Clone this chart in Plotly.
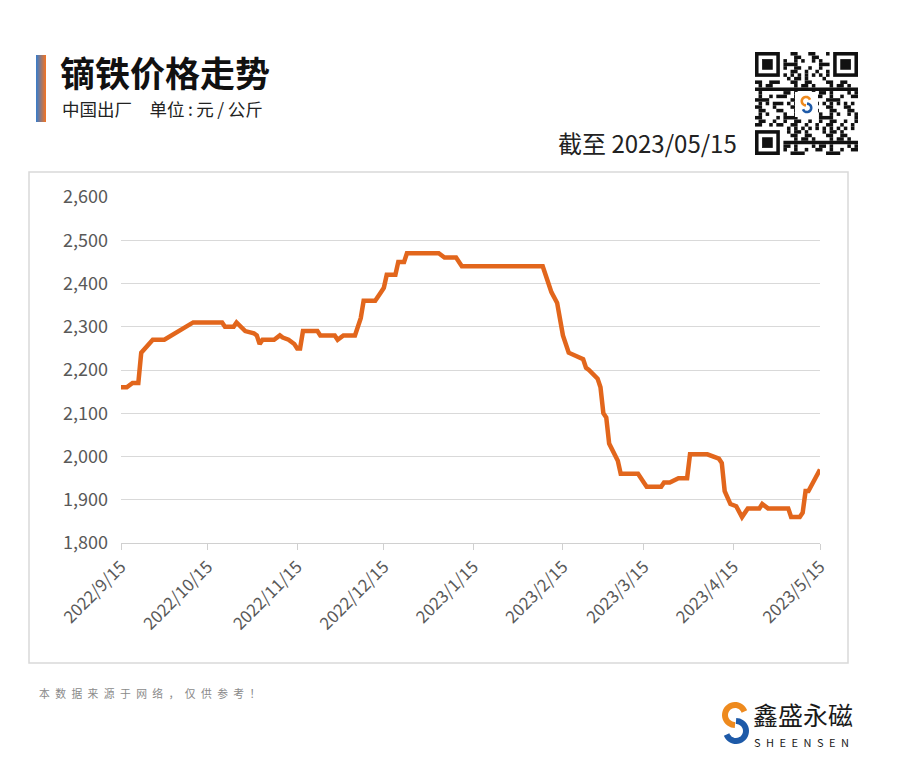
import math
import plotly.graph_objects as go

# ---------------- data ----------------
dates = [
    "2022-09-15", "2022-09-17", "2022-09-19", "2022-09-21", "2022-09-22", "2022-09-24", "2022-09-26", "2022-09-30",
    "2022-10-10", "2022-10-20", "2022-10-21", "2022-10-24", "2022-10-25", "2022-10-28", "2022-10-31",
    "2022-11-01", "2022-11-02", "2022-11-03", "2022-11-07", "2022-11-09", "2022-11-10", "2022-11-12", "2022-11-14",
    "2022-11-15", "2022-11-16", "2022-11-17", "2022-11-22", "2022-11-23", "2022-11-28", "2022-11-29",
    "2022-12-01", "2022-12-05", "2022-12-07", "2022-12-08", "2022-12-12", "2022-12-14", "2022-12-15", "2022-12-16",
    "2022-12-19", "2022-12-20", "2022-12-22", "2022-12-23",
    "2023-01-03", "2023-01-05", "2023-01-09", "2023-01-11",
    "2023-02-08", "2023-02-10", "2023-02-11", "2023-02-13", "2023-02-15", "2023-02-17", "2023-02-21", "2023-02-22",
    "2023-02-23", "2023-02-24", "2023-02-27", "2023-02-28",
    "2023-03-01", "2023-03-02", "2023-03-03", "2023-03-05", "2023-03-06", "2023-03-07", "2023-03-13", "2023-03-15",
    "2023-03-16", "2023-03-21", "2023-03-22", "2023-03-24", "2023-03-27", "2023-03-30", "2023-03-31",
    "2023-04-06", "2023-04-10", "2023-04-11", "2023-04-12", "2023-04-14", "2023-04-16", "2023-04-18", "2023-04-20",
    "2023-04-24", "2023-04-25", "2023-04-27",
    "2023-05-04", "2023-05-05", "2023-05-08", "2023-05-09", "2023-05-10", "2023-05-11", "2023-05-15",
]
prices = [
    2160, 2160, 2170, 2170, 2240, 2255, 2270, 2270,
    2310, 2310, 2300, 2300, 2310, 2290, 2285,
    2280, 2260, 2270, 2270, 2280, 2275, 2270, 2260,
    2250, 2250, 2290, 2290, 2280, 2280, 2270,
    2280, 2280, 2320, 2360, 2360, 2380, 2390, 2420,
    2420, 2450, 2450, 2470,
    2470, 2460, 2460, 2440,
    2440, 2400, 2380, 2355, 2280, 2240, 2230, 2225,
    2205, 2200, 2180, 2160,
    2100, 2090, 2030, 2005, 1990, 1960, 1960, 1940,
    1930, 1930, 1940, 1940, 1950, 1950, 2005,
    2005, 1995, 1985, 1920, 1890, 1885, 1860, 1880,
    1880, 1890, 1880,
    1880, 1860, 1860, 1870, 1920, 1920, 1970,
]
tick_dates = ["2022-09-15", "2022-10-15", "2022-11-15", "2022-12-15", "2023-01-15",
              "2023-02-15", "2023-03-15", "2023-04-15", "2023-05-15"]
tick_labels = ["2022/9/15", "2022/10/15", "2022/11/15", "2022/12/15", "2023/1/15",
               "2023/2/15", "2023/3/15", "2023/4/15", "2023/5/15"]
title_text = "镝铁价格走势"
subtitle_text = "中国出厂\u3000单位\u2009:\u2009元\u2009/\u2009公斤"
date_text = "截至 2023/05/15"
footer_text = "本数据来源于网络，仅供参考！"
brand_cn = "鑫盛永磁"
brand_en = "SHEENSEN"

# ---------------- layout geometry (page pixel coordinates) ----------------
PAGE_W, PAGE_H = 900, 770
OFF = 8                      # browser body margin
W, H = PAGE_W - OFF, PAGE_H - OFF
L, R, T, B = 121, 820, 197, 543
FONT = "Noto Sans CJK SC"


def px(x):
    return (x - L) / (R - L)


def py(y):
    return (B - y) / (B - T)


fig = go.Figure()
fig.add_trace(go.Scatter(
    x=dates, y=prices, mode="lines",
    line=dict(color="#E2661C", width=4.5),
    hoverinfo="x+y", showlegend=False,
))

shapes = []
# chart frame
shapes.append(dict(type="rect", xref="paper", yref="paper",
                   x0=px(29), x1=px(848), y0=py(663), y1=py(172),
                   line=dict(color="#d9d9d9", width=1.5), fillcolor="rgba(0,0,0,0)", layer="below"))

# gradient accent bar
c0 = (0x3f, 0x7c, 0xc4)
c1 = (0xec, 0x74, 0x2a)
nbar = 10
for i in range(nbar):
    t = i / (nbar - 1)
    col = "rgb(%d,%d,%d)" % tuple(round(a + (b - a) * t) for a, b in zip(c0, c1))
    shapes.append(dict(type="rect", xref="paper", yref="paper",
                       x0=px(36 + i), x1=px(37 + i), y0=py(122), y1=py(55),
                       line=dict(width=0), fillcolor=col))


def arc_path(cx, cy, r, a0, a1, n=28):
    pts = []
    for k in range(n + 1):
        a = math.radians(a0 + (a1 - a0) * k / n)
        pts.append((px(cx + r * math.cos(a)), py(cy - r * math.sin(a))))
    return "M " + " L ".join("%.5f,%.5f" % p for p in pts)


def s_logo(cx, cy, r, w):
    return [
        dict(type="path", xref="paper", yref="paper",
             path=arc_path(cx, cy - 0.8 * r, r, 20, 270),
             line=dict(color="#EE8A1E", width=w)),
        dict(type="path", xref="paper", yref="paper",
             path=arc_path(cx + 1, cy + 0.8 * r, r, 90, -160),
             line=dict(color="#1E5AA8", width=w)),
    ]


# QR-like code
qn = 29
mod = 103 / qn
qx, qy = 755, 52


def qrect(i0, j0, i1, j1, col):
    return dict(type="rect", xref="paper", yref="paper",
                x0=px(qx + j0 * mod), x1=px(qx + j1 * mod),
                y0=py(qy + i1 * mod), y1=py(qy + i0 * mod),
                line=dict(width=0), fillcolor=col)


for (fi, fj) in [(0, 0), (0, qn - 7), (qn - 7, 0)]:
    shapes.append(qrect(fi, fj, fi + 7, fj + 7, "#111"))
    shapes.append(qrect(fi + 1, fj + 1, fi + 6, fj + 6, "#fff"))
    shapes.append(qrect(fi + 2, fj + 2, fi + 5, fj + 5, "#111"))


def in_finder(i, j):
    return (i < 8 and j < 8) or (i < 8 and j >= qn - 8) or (i >= qn - 8 and j < 8)


def is_dark(i, j):
    if in_finder(i, j):
        return False
    if i == 6:
        return j % 2 == 0
    if j == 6:
        return i % 2 == 0
    return ((i * 7 + j * 11 + i * j * 3 + (i // 3) * (j // 2)) % 5) < 2


for i in range(qn):
    j = 0
    while j < qn:
        if is_dark(i, j):
            j0 = j
            while j < qn and is_dark(i, j):
                j += 1
            shapes.append(qrect(i, j0, i + 1, j, "#111"))
        else:
            j += 1
# center logo in QR
shapes.append(dict(type="rect", xref="paper", yref="paper",
                   x0=px(795), x1=px(818), y0=py(117), y1=py(92),
                   line=dict(width=0), fillcolor="#fff"))
shapes += s_logo(806, 104.5, 4.2, 2.6)

# brand logo
shapes += s_logo(735, 723, 10, 6)

annotations = [
    dict(text="<b>" + title_text + "</b>", x=px(58), y=py(72), xref="paper", yref="paper",
         xanchor="left", yanchor="middle", showarrow=False,
         font=dict(family=FONT, size=35, color="#111")),
    dict(text=subtitle_text, x=px(60), y=py(109), xref="paper", yref="paper",
         xanchor="left", yanchor="middle", showarrow=False,
         font=dict(family=FONT, size=17.5, color="#222")),
    dict(text=date_text, x=px(739), y=py(143), xref="paper", yref="paper",
         xanchor="right", yanchor="middle", showarrow=False,
         font=dict(family=FONT, size=24, color="#222")),
    dict(text="\u2002".join(footer_text), x=px(37), y=py(693), xref="paper", yref="paper",
         xanchor="left", yanchor="middle", showarrow=False,
         font=dict(family=FONT, size=10.8, color="#8a8a8a")),
    dict(text=brand_cn, x=px(751), y=py(714), xref="paper", yref="paper",
         xanchor="left", yanchor="middle", showarrow=False,
         font=dict(family=FONT, size=25, color="#1a1a1a")),
    dict(text="\u2002".join(brand_en), x=px(752), y=py(742), xref="paper", yref="paper",
         xanchor="left", yanchor="middle", showarrow=False,
         font=dict(family=FONT, size=11, color="#1a1a1a")),
]

fig.update_layout(
    width=W, height=H,
    margin=dict(l=L - OFF, r=PAGE_W - R, t=T - OFF, b=PAGE_H - B, pad=0),
    paper_bgcolor="#ffffff", plot_bgcolor="#ffffff",
    shapes=shapes, annotations=annotations,
    font=dict(family=FONT, color="#595959"),
    showlegend=False,
    xaxis=dict(
        type="date", range=["2022-09-15", "2023-05-15"],
        tickvals=tick_dates, ticktext=tick_labels, tickangle=-45,
        showgrid=False, showline=True, linecolor="#d0d0d0", linewidth=1.3,
        ticks="outside", ticklen=6, tickcolor="#d0d0d0", tickwidth=1.3,
        tickfont=dict(family=FONT, size=17, color="#595959"),
        zeroline=False, fixedrange=True,
    ),
    yaxis=dict(
        range=[1800, 2600], dtick=100, tick0=1800, tickformat=",",
        showgrid=True, gridcolor="#d9d9d9", gridwidth=1.3,
        zeroline=False, showline=False, ticks="", ticklabelstandoff=12,
        tickfont=dict(family=FONT, size=18, color="#595959"),
        fixedrange=True,
    ),
)

fig.write_html("out.html")
